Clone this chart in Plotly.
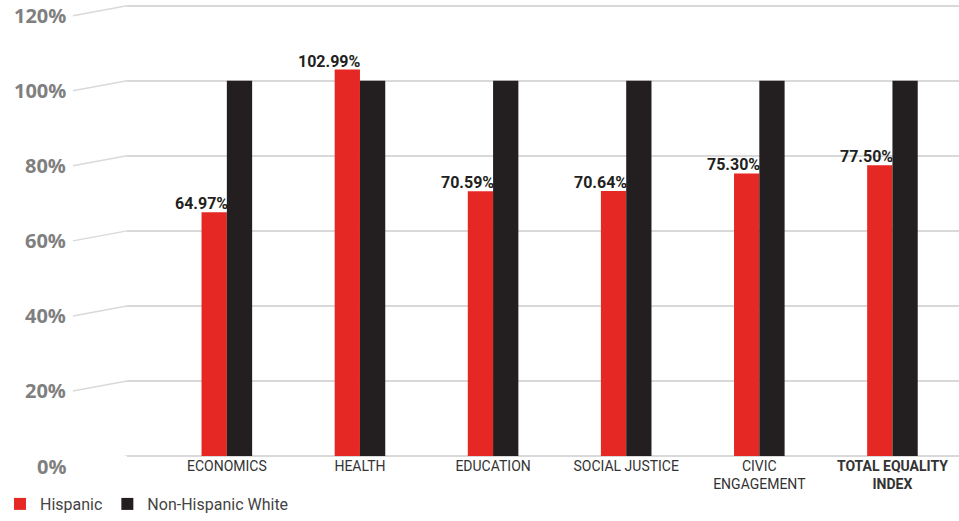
import plotly.graph_objects as go

categories = ["ECONOMICS", "HEALTH", "EDUCATION", "SOCIAL JUSTICE", "CIVIC<br>ENGAGEMENT", "<b>TOTAL EQUALITY<br>INDEX</b>"]
hispanic = [64.97, 102.99, 70.59, 70.64, 75.30, 77.50]
white = [100, 100, 100, 100, 100, 100]
y_ticks = [0, 20, 40, 60, 80, 100, 120]
y_tick_labels = ["0%", "20%", "40%", "60%", "80%", "100%", "120%"]

RED = "#e52823"
BLACK = "#231f20"
GRID = "#d9d9d9"
COND = "Roboto, sans-serif"

xpos = list(range(len(categories)))

fig = go.Figure()
fig.add_trace(go.Bar(x=xpos, y=hispanic, name="Hispanic", marker_color=RED, marker_line_width=0))
fig.add_trace(go.Bar(x=xpos, y=white, name="Non-Hispanic White", marker_color=BLACK, marker_line_width=0))

annotations = []
for i, v in enumerate(hispanic):
    annotations.append(dict(x=i, y=v, xref="x", yref="y", text=f"<b>{v:.2f}%</b>", showarrow=False,
                            xanchor="right", yanchor="bottom", yshift=-3, xshift=3,
                            font=dict(family=COND, size=16, color=BLACK)))
for t, lab in zip(y_ticks, y_tick_labels):
    annotations.append(dict(x=-0.071, y=t, xref="paper", yref="y", text=f"<b>{lab}</b>", showarrow=False,
                            xanchor="right", yanchor="middle", yshift=-10,
                            font=dict(family="Open Sans, sans-serif", size=20, color="#7f7f7f")))

shapes = []
for t in y_ticks:
    shapes.append(dict(type="line", xref="paper", yref="y", ysizemode="pixel", yanchor=t,
                       x0=-0.065, x1=0, y0=-10, y1=0, line=dict(color=GRID, width=1.5)))

fig.update_layout(
    width=959, height=521,
    margin=dict(l=127, r=0, t=2, b=65, autoexpand=False),
    plot_bgcolor="white", paper_bgcolor="white",
    barmode="group", bargap=0.62, bargroupgap=0,
    xaxis=dict(range=[-0.75, 5.5], tickmode="array", tickvals=xpos, ticktext=categories,
               showgrid=False, zeroline=False, showline=False, ticks="", automargin=False,
               ticklabeloverflow="allow",
               tickfont=dict(family=COND, size=14, color="#333333")),
    yaxis=dict(range=[0, 121], tickvals=y_ticks, showticklabels=False, showgrid=True,
               gridcolor=GRID, gridwidth=1.5, zeroline=True, zerolinecolor=GRID, zerolinewidth=1.5),
    showlegend=True,
    legend=dict(orientation="h", xref="container", yref="container", x=-0.019, xanchor="left",
                y=-0.025, yanchor="bottom",
                font=dict(family=COND, size=16, color="#444444"), itemwidth=30,
                traceorder="normal"),
    annotations=annotations, shapes=shapes,
)

fig.write_html("out.html")
